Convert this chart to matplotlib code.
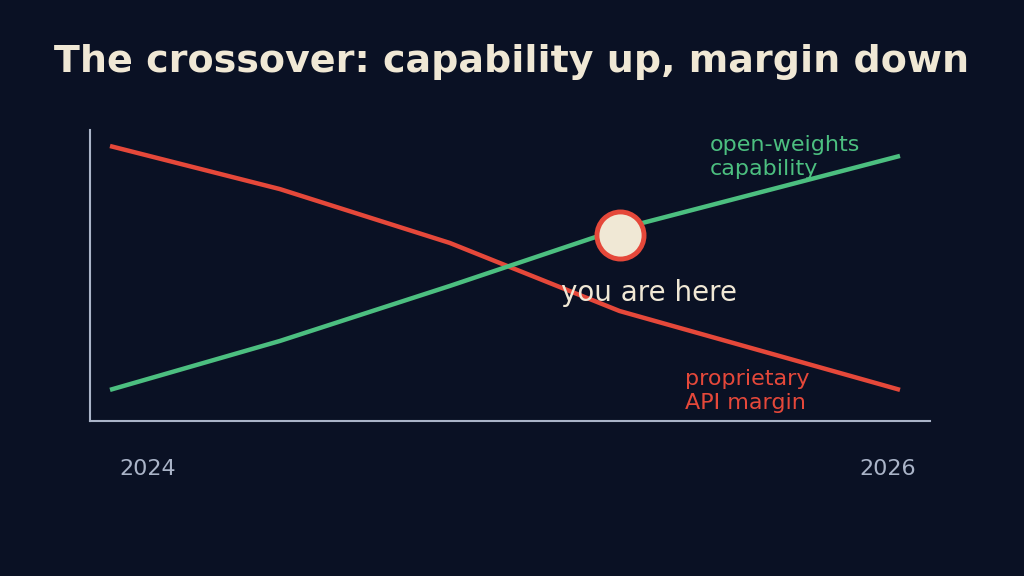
import matplotlib
matplotlib.use('Agg')
import matplotlib.pyplot as plt

plt.rcParams['font.family'] = ['DejaVu Sans']

# rough reading of the reference, x as fraction of 2024 -> 2026
x_pts = [0.0, 0.215, 0.43, 0.645, 1.0]
margin = [94.5, 79.7, 61.2, 37.8, 10.7]      # proprietary API margin
capability = [10.7, 27.5, 46.4, 66.0, 91.1]  # open-weights capability
here_x, here_y = 0.645, 63.9
year_labels = ['2024', '2026']

BG = '#0a1124'
CREAM = '#f0e8d5'
RED = '#e5483a'
GREEN = '#4cbf80'
GREY = '#aab4c8'

fig = plt.figure(figsize=(10.24, 5.76), dpi=100, facecolor=BG)
ax = fig.add_axes([90 / 1024, 1 - 421 / 576, 840 / 1024, 291 / 576])
ax.set_facecolor(BG)

ax.plot(x_pts, margin, color=RED, lw=3.2, solid_capstyle='butt')
ax.plot(x_pts, capability, color=GREEN, lw=3.2, solid_capstyle='butt')
ax.scatter([here_x], [here_y], s=1150, color=CREAM, edgecolor=RED, linewidth=3.5, zorder=5)

ax.set_xlim(-20 / 790, 1 + 30 / 790)
ax.set_ylim(0, 100)
for s in ['top', 'right']:
    ax.spines[s].set_visible(False)
for s in ['left', 'bottom']:
    ax.spines[s].set_color(GREY)
    ax.spines[s].set_linewidth(1.5)
ax.set_xticks([])
ax.set_yticks([])

ax.text(0.759, 90.7, 'open-weights\ncapability', color=GREEN, fontsize=16,
        va='center', ha='left', linespacing=1.25)
ax.text(0.728, 10.3, 'proprietary\nAPI margin', color=RED, fontsize=16,
        va='center', ha='left', linespacing=1.25)
ax.text(0.682, 44, 'you are here', color=CREAM, fontsize=20, ha='center', va='center')

ax.text(0.0476, -16.5, year_labels[0], color=GREY, fontsize=16, ha='center', va='center')
ax.text(0.985, -16.5, year_labels[1], color=GREY, fontsize=16, ha='center', va='center')

fig.text(0.5, 1 - 62 / 576, 'The crossover: capability up, margin down', color=CREAM,
         fontsize=27.4, fontweight='bold', ha='center', va='center')

fig.savefig('out.png', dpi=100, facecolor=BG)
